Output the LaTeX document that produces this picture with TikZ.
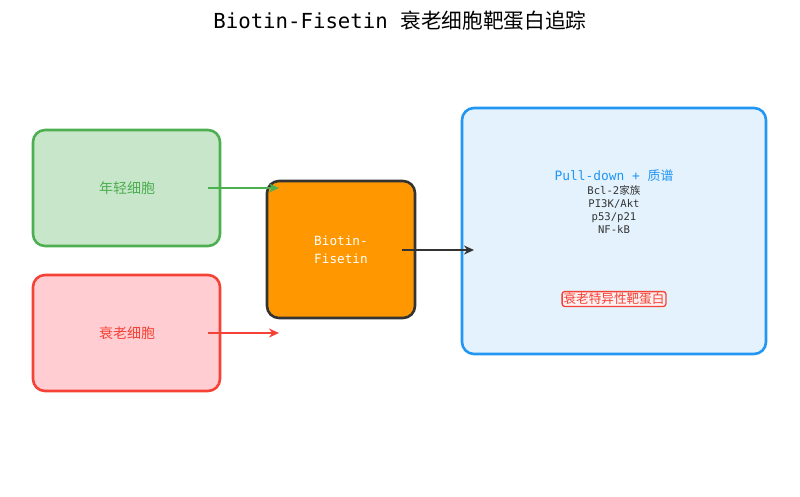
\documentclass[tikz,border=0pt]{standalone}
\usepackage{fontspec}
\setmainfont{DejaVu Sans Mono}
\newfontfamily\cjk{Noto Sans CJK SC}
\usetikzlibrary{arrows.meta}
\definecolor{gfill}{HTML}{C8E6C9}
\definecolor{gline}{HTML}{4CAF50}
\definecolor{rfill}{HTML}{FFCDD2}
\definecolor{rline}{HTML}{F44336}
\definecolor{ofill}{HTML}{FF9800}
\definecolor{dline}{HTML}{333333}
\definecolor{bfill}{HTML}{E3F2FD}
\definecolor{bline}{HTML}{2196F3}
\tikzset{
  box/.style={draw, line width=2.6pt, rounded corners=12pt, inner sep=0pt},
  conn/.style={line width=2.8pt, -{Stealth[length=10pt,width=9pt]}},
}
\begin{document}
\begin{tikzpicture}[x=1pt,y=-1pt]
\useasboundingbox (0,0) rectangle (800,496);
% title
\node[font=\fontsize{20.7}{24}\selectfont] (title) at (400,21) {Biotin-Fisetin {\cjk 衰老细胞靶蛋白追踪}};
% boxes
\draw[box, fill=gfill, draw=gline] (33,130) rectangle (220,246);
\node[text=gline, font=\fontsize{14}{16}\selectfont\cjk] (young) at (127,188) {年轻细胞};
\draw[box, fill=rfill, draw=rline] (33,275) rectangle (220,391);
\node[text=rline, font=\fontsize{14}{16}\selectfont\cjk] (old) at (127,333) {衰老细胞};
\draw[box, fill=ofill, draw=dline] (267,181) rectangle (415,318);
\node[text=white, align=center, font=\fontsize{12.7}{18}\selectfont] (bf) at (341,250) {Biotin-\\Fisetin};
\draw[box, fill=bfill, draw=bline] (462,108) rectangle (766,354);
\node[text=bline, font=\fontsize{12.9}{15}\selectfont] (pd) at (614,176) {Pull-down + {\cjk 质谱}};
\node[text=dline, align=center, anchor=north, font=\fontsize{10.6}{13}\selectfont] (list) at (614,182) {Bcl-2{\cjk 家族}\\PI3K/Akt\\p53/p21\\NF-kB};
\node[text=rline, draw=rline, fill=white!70!rfill, line width=1.3pt, rounded corners=2.5pt, inner sep=1.5pt, font=\fontsize{12.6}{15}\selectfont\cjk] (tgt) at (614,299) {衰老特异性靶蛋白};
% connectors
\coordinate (ga) at (208,188); \coordinate (gb) at (279,188);
\coordinate (ra) at (208,333); \coordinate (rb) at (279,333);
\coordinate (ba) at (402,250); \coordinate (bb) at (474,250);
\draw[conn, gline] (ga) -- (gb);
\draw[conn, rline] (ra) -- (rb);
\draw[conn, dline] (ba) -- (bb);
\end{tikzpicture}
\end{document}
